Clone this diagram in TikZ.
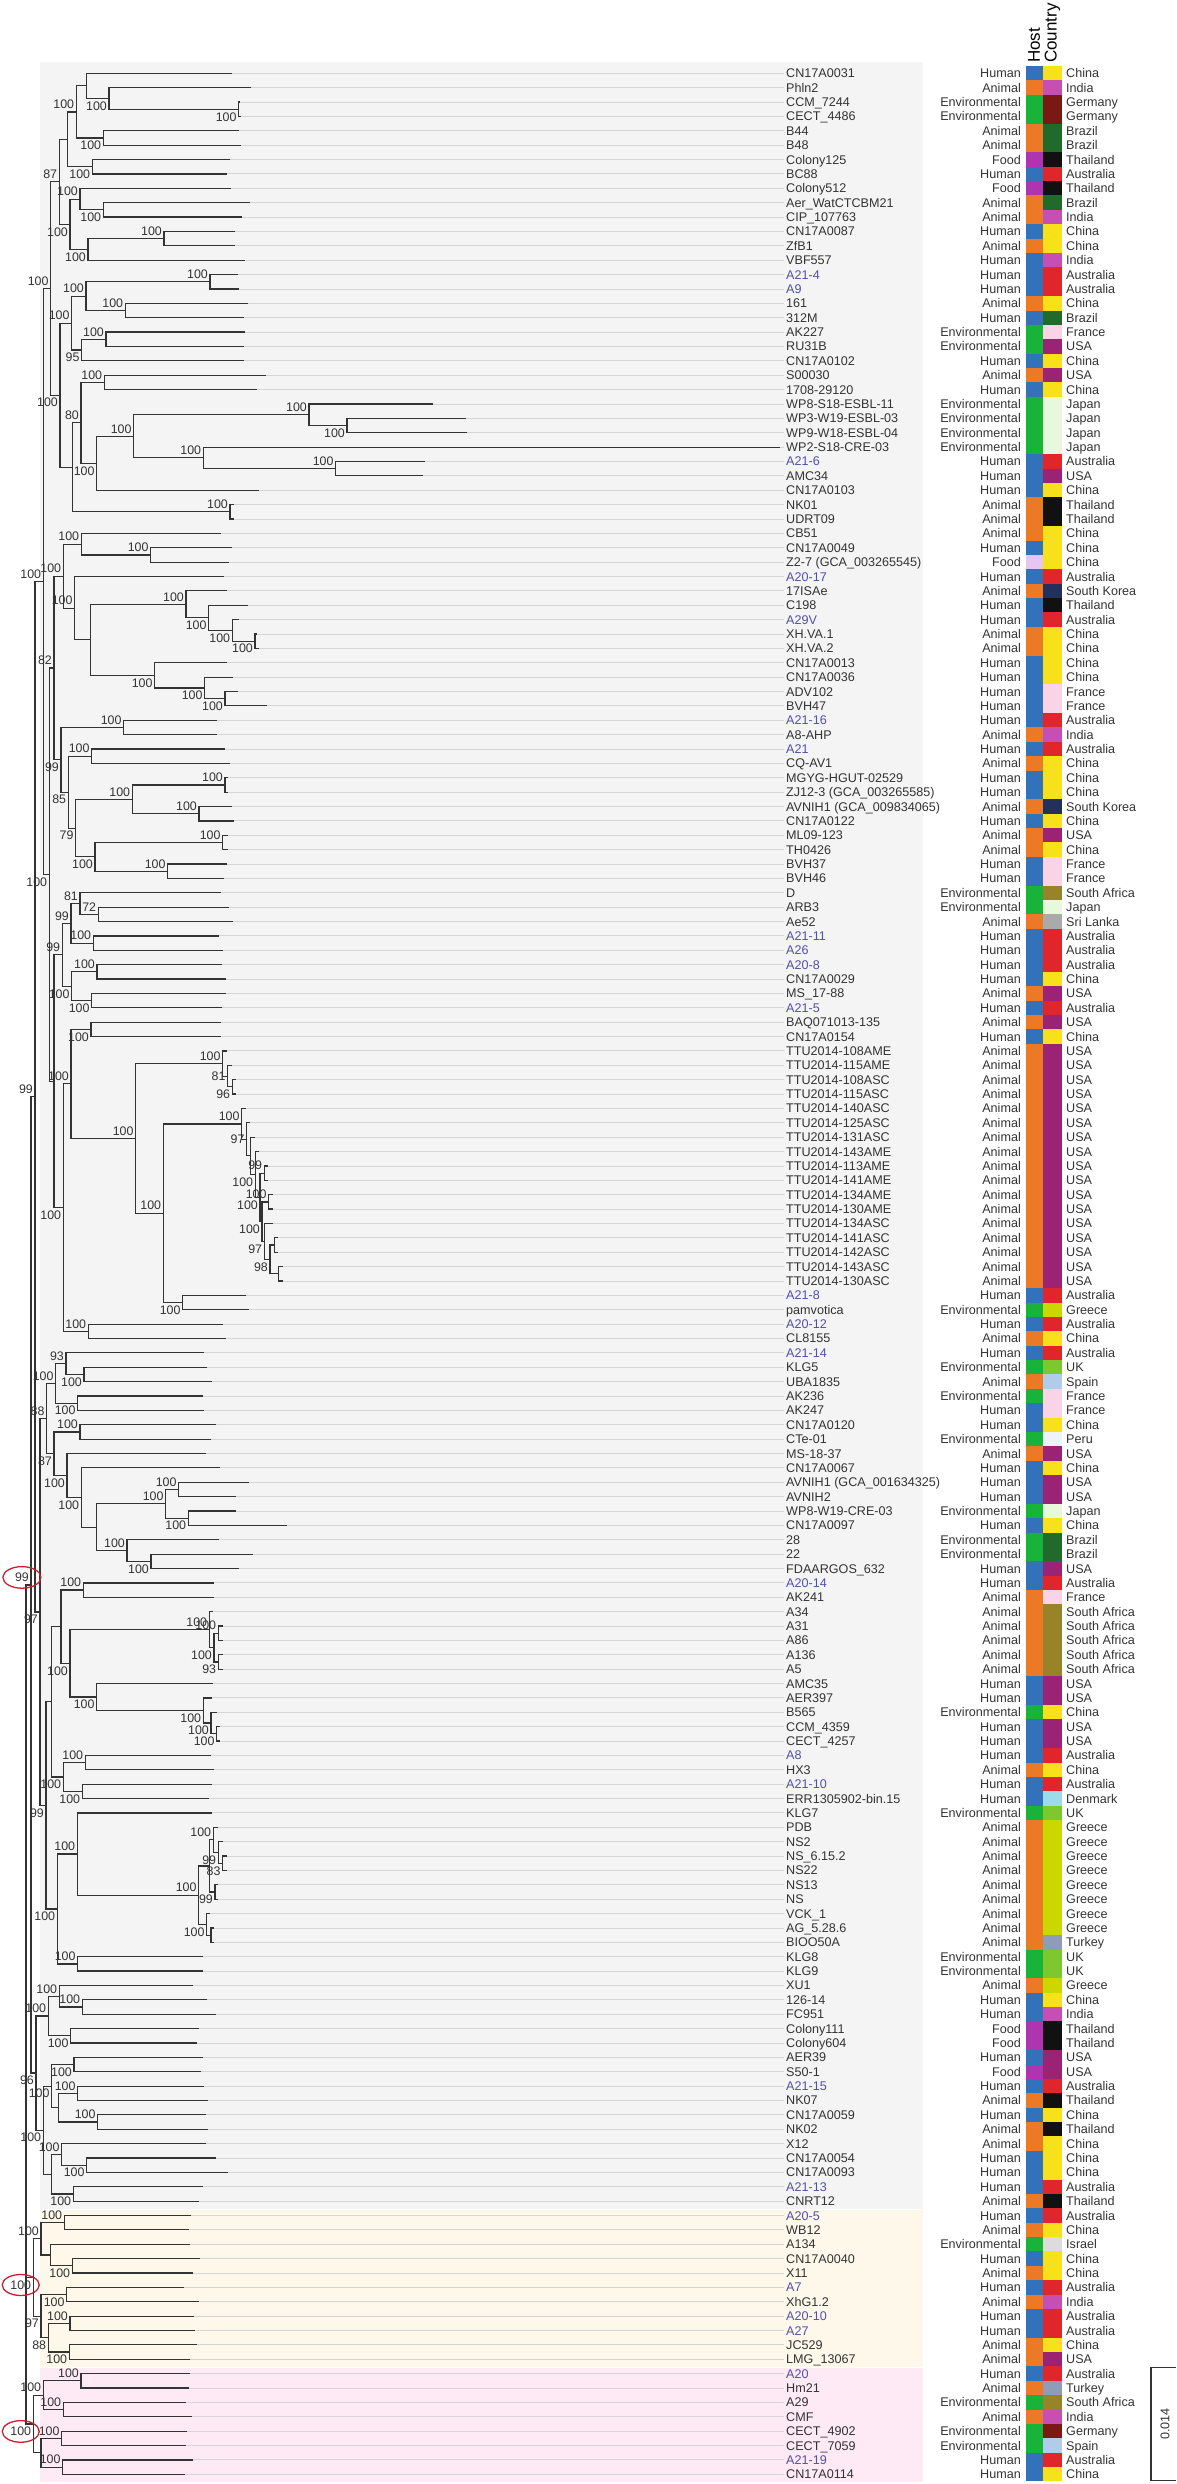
\documentclass[tikz,border=0pt]{standalone}
\usepackage{fontspec}
\setmainfont{Liberation Sans}

\definecolor{ink}{HTML}{333333}
\definecolor{rule}{HTML}{D6D6D6}
\definecolor{ours}{RGB}{80,80,170}
\definecolor{ringred}{HTML}{C8202D}
\definecolor{bgGrey}{HTML}{F4F4F4}
\definecolor{bgYellow}{HTML}{FEF8EB}
\definecolor{bgPink}{HTML}{FDEAF4}
% host colours
\definecolor{hH}{HTML}{3272B8}
\definecolor{hA}{HTML}{EC7A24}
\definecolor{hE}{HTML}{17B439}
\definecolor{hF}{HTML}{AE34B0}
\definecolor{hf}{HTML}{E4C6F0}
% country colours
\definecolor{cCN}{HTML}{F6E11A}
\definecolor{cIN}{HTML}{C64FB4}
\definecolor{cDE}{HTML}{7A1914}
\definecolor{cBR}{HTML}{206B2B}
\definecolor{cTH}{HTML}{111111}
\definecolor{cAU}{HTML}{E0262A}
\definecolor{cFR}{HTML}{FBD3E6}
\definecolor{cUS}{HTML}{9A2376}
\definecolor{cJP}{HTML}{E8F8DC}
\definecolor{cKR}{HTML}{22305C}
\definecolor{cZA}{HTML}{978428}
\definecolor{cLK}{HTML}{AAAAAA}
\definecolor{cGR}{HTML}{C8D800}
\definecolor{cUK}{HTML}{7DC72F}
\definecolor{cES}{HTML}{B0CCEA}
\definecolor{cPE}{HTML}{EEF3FB}
\definecolor{cDK}{HTML}{9CDCEA}
\definecolor{cTR}{HTML}{8E9CB8}
\definecolor{cIL}{HTML}{DCDCDC}

\def\hostH{Human}\def\hostA{Animal}\def\hostE{Environmental}\def\hostF{Food}\def\hostf{Food}
\def\ctryCN{China}\def\ctryIN{India}\def\ctryDE{Germany}\def\ctryBR{Brazil}
\def\ctryTH{Thailand}\def\ctryAU{Australia}\def\ctryFR{France}\def\ctryUS{USA}
\def\ctryJP{Japan}\def\ctryKR{South Korea}\def\ctryZA{South Africa}\def\ctryLK{Sri Lanka}
\def\ctryGR{Greece}\def\ctryUK{UK}\def\ctryES{Spain}\def\ctryPE{Peru}
\def\ctryDK{Denmark}\def\ctryTR{Turkey}\def\ctryIL{Israel}

\newcommand\leaffont{\fontsize{12.6}{14}\selectfont}
\newcommand\bootfont{\fontsize{12.4}{14}\selectfont}
\newcommand\headfont{\fontsize{17}{19}\selectfont}

% leaf: [name style]{row}{tip x}{name}{host}{country}
\newcommand\lf[6][leafname]{%
  \pgfmathsetmacro\rowy{73.3+(#2-1)*14.377}%
  \expandafter\xdef\csname ly@l#2\endcsname{\rowy}%
  \coordinate (l#2) at (#3,\rowy);
  \node[#1] (t#2) at (784,\rowy) {#4};
  \draw[guide] (l#2) -- (t#2);
  \node[hostlbl] (h#2) at (1021,\rowy) {\csname host#5\endcsname};
  \fill[h#5] (1025.7,\rowy-7.2) rectangle (1043,\rowy+7.2);
  \fill[c#6] (1043,\rowy-7.2) rectangle (1062,\rowy+7.2);
  \node[ctrylbl] (k#2) at (1066,\rowy) {\csname ctry#6\endcsname};
}
% clade: {name}{x}{child a}{child b}{support}{u/d/m}
\newcommand\nd[6]{%
  \edef\nda{\csname ly@#3\endcsname}\edef\ndb{\csname ly@#4\endcsname}%
  \pgfmathsetmacro\rowy{(\nda+\ndb)/2}%
  \expandafter\xdef\csname ly@#1\endcsname{\rowy}%
  \coordinate (#1) at (#2,\rowy);
  \draw[branch] (#3) -- (#3 -| #1) -- (#4 -| #1) -- (#4);
  \if\relax\detokenize{#5}\relax\else\node[boot,b#6] (b#1) at (#1) {#5};\fi
}

\begin{document}
\begin{tikzpicture}[x=1pt,y=-1pt,
    branch/.style={draw=ink,line width=1.2pt},
    guide/.style={draw=rule,line width=0.9pt},
    leafname/.style={anchor=west,inner sep=2pt,text height=9pt,text depth=0pt,font=\leaffont,text=ink},
    ourname/.style={leafname,text=ours},
    hostlbl/.style={anchor=east,inner sep=0pt,text height=9pt,text depth=0pt,font=\leaffont,text=ink},
    ctrylbl/.style={anchor=west,inner sep=0pt,text height=9pt,text depth=0pt,font=\leaffont,text=ink},
    boot/.style={anchor=east,inner sep=0pt,xshift=-2pt,font=\bootfont,text=ink},
    bu/.style={yshift=7.5pt},bd/.style={yshift=-7.5pt},bm/.style={},
    ring/.style={draw=ringred,line width=1.3pt},
    colhead/.style={rotate=90,anchor=west,inner sep=0pt,font=\headfont,text=black},
    scalebar/.style={draw=ink,line width=1.2pt}]
  \useasboundingbox (0,0) rectangle (1176,2484);

  \fill[bgGrey] (40,62) rectangle (923,2208.5);
  \fill[bgYellow] (40,2209.5) rectangle (923,2366.5);
  \fill[bgPink] (40,2367.5) rectangle (923,2481.5);

  \node[colhead] (hdhost) at (1034.2,63) {Host};
  \node[colhead] (hdctry) at (1052.5,63) {Country};

  \lf{1}{232}{CN17A0031}{H}{CN}
  \lf{2}{251}{Phln2}{A}{IN}
  \lf{3}{240}{CCM\_7244}{E}{DE}
  \lf{4}{241}{CECT\_4486}{E}{DE}
  \lf{5}{239}{B44}{A}{BR}
  \lf{6}{241}{B48}{A}{BR}
  \lf{7}{230}{Colony125}{F}{TH}
  \lf{8}{227}{BC88}{H}{AU}
  \lf{9}{231}{Colony512}{F}{TH}
  \lf{10}{250}{Aer\_WatCTCBM21}{A}{BR}
  \lf{11}{242}{CIP\_107763}{A}{IN}
  \lf{12}{235}{CN17A0087}{H}{CN}
  \lf{13}{235}{ZfB1}{A}{CN}
  \lf{14}{245}{VBF557}{H}{IN}
  \lf[ourname]{15}{238}{A21-4}{H}{AU}
  \lf[ourname]{16}{239}{A9}{H}{AU}
  \lf{17}{248}{161}{A}{CN}
  \lf{18}{244}{312M}{H}{BR}
  \lf{19}{245}{AK227}{E}{FR}
  \lf{20}{244}{RU31B}{E}{US}
  \lf{21}{244}{CN17A0102}{H}{CN}
  \lf{22}{266}{S00030}{A}{US}
  \lf{23}{257}{1708-29120}{H}{CN}
  \lf{24}{433}{WP8-S18-ESBL-11}{E}{JP}
  \lf{25}{466}{WP3-W19-ESBL-03}{E}{JP}
  \lf{26}{467}{WP9-W18-ESBL-04}{E}{JP}
  \lf{27}{780}{WP2-S18-CRE-03}{E}{JP}
  \lf[ourname]{28}{425}{A21-6}{H}{AU}
  \lf{29}{423}{AMC34}{H}{US}
  \lf{30}{259}{CN17A0103}{H}{CN}
  \lf{31}{234}{NK01}{A}{TH}
  \lf{32}{234}{UDRT09}{A}{TH}
  \lf{33}{221}{CB51}{A}{CN}
  \lf{34}{232}{CN17A0049}{H}{CN}
  \lf{35}{229}{Z2-7 (GCA\_003265545)}{f}{CN}
  \lf[ourname]{36}{224}{A20-17}{H}{AU}
  \lf{37}{227}{17ISAe}{A}{KR}
  \lf{38}{248}{C198}{H}{TH}
  \lf[ourname]{39}{239}{A29V}{H}{AU}
  \lf{40}{257}{XH.VA.1}{A}{CN}
  \lf{41}{259}{XH.VA.2}{A}{CN}
  \lf{42}{227}{CN17A0013}{H}{CN}
  \lf{43}{233}{CN17A0036}{H}{CN}
  \lf{44}{238}{ADV102}{H}{FR}
  \lf{45}{267}{BVH47}{H}{FR}
  \lf[ourname]{46}{217}{A21-16}{H}{AU}
  \lf{47}{217}{A8-AHP}{A}{IN}
  \lf[ourname]{48}{225}{A21}{H}{AU}
  \lf{49}{230}{CQ-AV1}{A}{CN}
  \lf{50}{228}{MGYG-HGUT-02529}{H}{CN}
  \lf{51}{228}{ZJ12-3 (GCA\_003265585)}{H}{CN}
  \lf{52}{232}{AVNIH1 (GCA\_009834065)}{A}{KR}
  \lf{53}{234}{CN17A0122}{H}{CN}
  \lf{54}{228}{ML09-123}{A}{US}
  \lf{55}{228}{TH0426}{A}{CN}
  \lf{56}{227}{BVH37}{H}{FR}
  \lf{57}{224}{BVH46}{H}{FR}
  \lf{58}{221}{D}{E}{ZA}
  \lf{59}{229}{ARB3}{E}{JP}
  \lf{60}{233}{Ae52}{A}{LK}
  \lf[ourname]{61}{219}{A21-11}{H}{AU}
  \lf[ourname]{62}{223}{A26}{H}{AU}
  \lf[ourname]{63}{222}{A20-8}{H}{AU}
  \lf{64}{226}{CN17A0029}{H}{CN}
  \lf{65}{226}{MS\_17-88}{A}{US}
  \lf[ourname]{66}{222}{A21-5}{H}{AU}
  \lf{67}{221}{BAQ071013-135}{A}{US}
  \lf{68}{221}{CN17A0154}{H}{CN}
  \lf{69}{227}{TTU2014-108AME}{A}{US}
  \lf{70}{232}{TTU2014-115AME}{A}{US}
  \lf{71}{236}{TTU2014-108ASC}{A}{US}
  \lf{72}{236}{TTU2014-115ASC}{A}{US}
  \lf{73}{246}{TTU2014-140ASC}{A}{US}
  \lf{74}{250}{TTU2014-125ASC}{A}{US}
  \lf{75}{255}{TTU2014-131ASC}{A}{US}
  \lf{76}{259}{TTU2014-143AME}{A}{US}
  \lf{77}{268}{TTU2014-113AME}{A}{US}
  \lf{78}{268}{TTU2014-141AME}{A}{US}
  \lf{79}{273}{TTU2014-134AME}{A}{US}
  \lf{80}{273}{TTU2014-130AME}{A}{US}
  \lf{81}{273}{TTU2014-134ASC}{A}{US}
  \lf{82}{278}{TTU2014-141ASC}{A}{US}
  \lf{83}{278}{TTU2014-142ASC}{A}{US}
  \lf{84}{283}{TTU2014-143ASC}{A}{US}
  \lf{85}{283}{TTU2014-130ASC}{A}{US}
  \lf[ourname]{86}{246}{A21-8}{H}{AU}
  \lf{87}{249}{pamvotica}{E}{GR}
  \lf[ourname]{88}{223}{A20-12}{H}{AU}
  \lf{89}{226}{CL8155}{A}{CN}
  \lf[ourname]{90}{204}{A21-14}{H}{AU}
  \lf{91}{207}{KLG5}{E}{UK}
  \lf{92}{212}{UBA1835}{A}{ES}
  \lf{93}{203}{AK236}{E}{FR}
  \lf{94}{204}{AK247}{H}{FR}
  \lf{95}{216}{CN17A0120}{H}{CN}
  \lf{96}{211}{CTe-01}{E}{PE}
  \lf{97}{206}{MS-18-37}{A}{US}
  \lf{98}{220}{CN17A0067}{H}{CN}
  \lf{99}{249}{AVNIH1 (GCA\_001634325)}{H}{US}
  \lf{100}{236}{AVNIH2}{H}{US}
  \lf{101}{236}{WP8-W19-CRE-03}{E}{JP}
  \lf{102}{287}{CN17A0097}{H}{CN}
  \lf{103}{219}{28}{E}{BR}
  \lf{104}{253}{22}{E}{BR}
  \lf{105}{239}{FDAARGOS\_632}{H}{US}
  \lf[ourname]{106}{214}{A20-14}{H}{AU}
  \lf{107}{214}{AK241}{A}{FR}
  \lf{108}{213}{A34}{A}{ZA}
  \lf{109}{223}{A31}{A}{ZA}
  \lf{110}{223}{A86}{A}{ZA}
  \lf{111}{223}{A136}{A}{ZA}
  \lf{112}{223}{A5}{A}{ZA}
  \lf{113}{213}{AMC35}{H}{US}
  \lf{114}{212}{AER397}{H}{US}
  \lf{115}{217}{B565}{E}{CN}
  \lf{116}{220}{CCM\_4359}{H}{US}
  \lf{117}{220}{CECT\_4257}{H}{US}
  \lf[ourname]{118}{211}{A8}{H}{AU}
  \lf{119}{214}{HX3}{A}{CN}
  \lf[ourname]{120}{212}{A21-10}{H}{AU}
  \lf{121}{209}{ERR1305902-bin.15}{H}{DK}
  \lf{122}{212}{KLG7}{E}{UK}
  \lf{123}{218}{PDB}{A}{GR}
  \lf{124}{223}{NS2}{A}{GR}
  \lf{125}{227}{NS\_6.15.2}{A}{GR}
  \lf{126}{227}{NS22}{A}{GR}
  \lf{127}{218}{NS13}{A}{GR}
  \lf{128}{218}{NS}{A}{GR}
  \lf{129}{210}{VCK\_1}{A}{GR}
  \lf{130}{214}{AG\_5.28.6}{A}{GR}
  \lf{131}{214}{BIOO50A}{A}{TR}
  \lf{132}{203}{KLG8}{E}{UK}
  \lf{133}{203}{KLG9}{E}{UK}
  \lf{134}{193}{XU1}{A}{GR}
  \lf{135}{207}{126-14}{H}{CN}
  \lf{136}{216}{FC951}{H}{IN}
  \lf{137}{199}{Colony111}{F}{TH}
  \lf{138}{197}{Colony604}{F}{TH}
  \lf{139}{203}{AER39}{H}{US}
  \lf{140}{201}{S50-1}{F}{US}
  \lf[ourname]{141}{204}{A21-15}{H}{AU}
  \lf{142}{208}{NK07}{A}{TH}
  \lf{143}{206}{CN17A0059}{H}{CN}
  \lf{144}{208}{NK02}{A}{TH}
  \lf{145}{206}{X12}{A}{CN}
  \lf{146}{216}{CN17A0054}{H}{CN}
  \lf{147}{228}{CN17A0093}{H}{CN}
  \lf[ourname]{148}{203}{A21-13}{H}{AU}
  \lf{149}{199}{CNRT12}{A}{TH}
  \lf[ourname]{150}{191}{A20-5}{H}{AU}
  \lf{151}{189}{WB12}{A}{CN}
  \lf{152}{190}{A134}{E}{IL}
  \lf{153}{200}{CN17A0040}{H}{CN}
  \lf{154}{193}{X11}{A}{CN}
  \lf[ourname]{155}{184}{A7}{H}{AU}
  \lf{156}{199}{XhG1.2}{A}{IN}
  \lf[ourname]{157}{194}{A20-10}{H}{AU}
  \lf[ourname]{158}{195}{A27}{H}{AU}
  \lf{159}{197}{JC529}{A}{CN}
  \lf{160}{190}{LMG\_13067}{A}{US}
  \lf[ourname]{161}{190}{A20}{H}{AU}
  \lf{162}{189}{Hm21}{A}{TR}
  \lf{163}{186}{A29}{E}{ZA}
  \lf{164}{192}{CMF}{A}{IN}
  \lf{165}{187}{CECT\_4902}{E}{DE}
  \lf{166}{186}{CECT\_7059}{E}{ES}
  \lf[ourname]{167}{193}{A21-19}{H}{AU}
  \lf{168}{185}{CN17A0114}{H}{CN}

  % upper grey clade
  \nd{n34}{238.7}{l3}{l4}{100}{d}
  \nd{n2b}{109}{l2}{n34}{100}{d}
  \nd{n1a}{86.3}{l1}{n2b}{}{}
  \nd{n56}{103.3}{l5}{l6}{100}{d}
  \nd{n1f}{76.3}{n1a}{n56}{100}{u}
  \nd{n78}{92.3}{l7}{l8}{100}{d}
  \nd{n1h}{67.3}{n1f}{n78}{}{}
  \nd{n1011}{103.3}{l10}{l11}{100}{d}
  \nd{n9c}{80}{l9}{n1011}{100}{u}
  \nd{n1213}{164}{l12}{l13}{100}{u}
  \nd{n12e}{88}{n1213}{l14}{100}{d}
  \nd{n9f}{70}{n9c}{n12e}{100}{d}
  \nd{n1n}{59.3}{n1h}{n9f}{87}{u}
  \nd{n1516}{210}{l15}{l16}{100}{u}
  \nd{n1718}{125.3}{l17}{l18}{100}{u}
  \nd{n15d}{86}{n1516}{n1718}{100}{u}
  \nd{n1920}{106}{l19}{l20}{100}{u}
  \nd{n19c}{81.7}{n1920}{l21}{95}{d}
  \nd{n15g}{71.7}{n15d}{n19c}{100}{u}
  \nd{n2223}{104.3}{l22}{l23}{100}{u}
  \nd{n2526}{347}{l25}{l26}{100}{d}
  \nd{n24c}{309}{l24}{n2526}{100}{u}
  \nd{n2829}{335.7}{l28}{l29}{100}{u}
  \nd{n27c}{203.3}{l27}{n2829}{100}{u}
  \nd{n24f}{133.7}{n24c}{n27c}{100}{u}
  \nd{n24g}{96.7}{n24f}{l30}{100}{d}
  \nd{n22e}{81}{n2223}{n24g}{80}{u}
  \nd{n3132}{230}{l31}{l32}{100}{u}
  \nd{n22g}{72.3}{n22e}{n3132}{}{}
  \nd{n15i}{60}{n15g}{n22g}{100}{d}
  \nd{nA}{50.7}{n1n}{n15i}{100}{u}

  \nd{n3435}{150.7}{l34}{l35}{100}{u}
  \nd{n33c}{81.3}{l33}{n3435}{100}{u}
  \nd{n4041}{255}{l40}{l41}{100}{d}
  \nd{n39c}{232.3}{l39}{n4041}{100}{d}
  \nd{n38d}{208.7}{l38}{n39c}{100}{d}
  \nd{n37e}{186}{l37}{n38d}{100}{u}
  \nd{n4445}{225}{l44}{l45}{100}{d}
  \nd{n43c}{204.7}{l43}{n4445}{100}{d}
  \nd{n42d}{154.7}{l42}{n43c}{100}{d}
  \nd{n37j}{90.7}{n37e}{n42d}{}{}
  \nd{n36k}{74.7}{l36}{n37j}{100}{u}
  \nd{n33l}{63.3}{n33c}{n36k}{100}{u}
  \nd{n4647}{123.7}{l46}{l47}{100}{u}
  \nd{n4849}{91.7}{l48}{l49}{100}{u}
  \nd{n5051}{225}{l50}{l51}{100}{u}
  \nd{n5253}{199}{l52}{l53}{100}{u}
  \nd{n50d}{132.3}{n5051}{n5253}{100}{u}
  \nd{n5455}{222.7}{l54}{l55}{100}{u}
  \nd{n5657}{167.7}{l56}{l57}{100}{u}
  \nd{n54d}{95}{n5455}{n5657}{100}{d}
  \nd{n50h}{75.7}{n50d}{n54d}{79}{d}
  \nd{n48j}{68.3}{n4849}{n50h}{85}{d}
  \nd{n46l}{61}{n4647}{n48j}{99}{d}
  \nd{n33x}{54}{n33l}{n46l}{82}{u}

  \nd{n5960}{98.3}{l59}{l60}{72}{u}
  \nd{n58c}{80}{l58}{n5960}{81}{u}
  \nd{n6162}{93.3}{l61}{l62}{100}{u}
  \nd{n58e}{71}{n58c}{n6162}{99}{u}
  \nd{n6364}{97}{l63}{l64}{100}{u}
  \nd{n6566}{91.7}{l65}{l66}{100}{d}
  \nd{n63d}{71.7}{n6364}{n6566}{100}{d}
  \nd{n58i}{62.3}{n58e}{n63d}{99}{u}
  \nd{n6768}{91}{l67}{l68}{100}{d}
  \nd{n7172}{232.3}{l71}{l72}{96}{d}
  \nd{n70c}{227.7}{l70}{n7172}{81}{m}
  \nd{n69d}{222.7}{l69}{n70c}{100}{u}
  \nd{n8485}{278.3}{l84}{l85}{}{}
  \nd{n8283}{274.3}{l82}{l83}{}{}
  \nd{n82d}{270}{n8283}{n8485}{98}{d}
  \nd{n81e}{264.3}{l81}{n82d}{97}{d}
  \nd{n7980}{268.7}{l79}{l80}{100}{u}
  \nd{n79g}{262}{n7980}{n81e}{100}{d}
  \nd{n7778}{264.3}{l77}{l78}{99}{u}
  \nd{n77j}{260}{n7778}{n79g}{100}{d}
  \nd{n76k}{255.3}{l76}{n77j}{100}{d}
  \nd{n75l}{250.7}{l75}{n76k}{}{}
  \nd{n74m}{246.7}{l74}{n75l}{97}{m}
  \nd{n73n}{241.7}{l73}{n74m}{100}{u}
  \nd{n8687}{182.7}{l86}{l87}{100}{d}
  \nd{n73p}{163.3}{n73n}{n8687}{100}{u}
  \nd{n69r}{135.7}{n69d}{n73p}{100}{u}
  \nd{n67t}{71}{n6768}{n69r}{100}{u}
  \nd{n8889}{88.3}{l88}{l89}{100}{u}
  \nd{n67v}{63.3}{n67t}{n8889}{100}{d}
  \nd{n58z}{54}{n58i}{n67v}{}{}
  \nd{n33y}{49.3}{n33x}{n58z}{100}{d}
  \nd{nB}{43.3}{nA}{n33y}{100}{u}

  % lower grey clade
  \nd{n9192}{84}{l91}{l92}{100}{d}
  \nd{n90c}{66}{l90}{n9192}{93}{u}
  \nd{n9394}{77.7}{l93}{l94}{100}{d}
  \nd{n90e}{55.7}{n90c}{n9394}{100}{u}
  \nd{n9596}{80}{l95}{l96}{100}{u}
  \nd{n99100}{178.7}{l99}{l100}{100}{u}
  \nd{n101102}{188.3}{l101}{l102}{100}{d}
  \nd{n99d}{165.7}{n99100}{n101102}{100}{u}
  \nd{n104105}{151}{l104}{l105}{100}{d}
  \nd{n103c}{127}{l103}{n104105}{100}{u}
  \nd{n99g}{96.7}{n99d}{n103c}{}{}
  \nd{n98h}{81.3}{l98}{n99g}{100}{d}
  \nd{n97i}{67}{l97}{n98h}{100}{d}
  \nd{n95k}{54}{n9596}{n97i}{87}{d}
  \nd{n90p}{46.7}{n90e}{n95k}{88}{u}
  \nd{n106107}{83.3}{l106}{l107}{100}{u}
  \nd{n109110}{218.3}{l109}{l110}{100}{u}
  \nd{n111112}{218.3}{l111}{l112}{93}{d}
  \nd{n109d}{214}{n109110}{n111112}{100}{d}
  \nd{n108e}{209.3}{l108}{n109d}{100}{u}
  \nd{n116117}{216.7}{l116}{l117}{100}{d}
  \nd{n115c}{211}{l115}{n116117}{100}{d}
  \nd{n114d}{203.3}{l114}{n115c}{100}{d}
  \nd{n113e}{96.7}{l113}{n114d}{100}{d}
  \nd{n108g}{70}{n108e}{n113e}{100}{d}
  \nd{n106h}{61}{n106107}{n108g}{}{}
  \nd{n118119}{85.3}{l118}{l119}{100}{u}
  \nd{n120121}{82.3}{l120}{l121}{100}{d}
  \nd{n118d}{63.3}{n118119}{n120121}{100}{d}
  \nd{n106m}{51.7}{n106h}{n118d}{}{}
  \nd{n125126}{222.7}{l125}{l126}{83}{d}
  \nd{n124c}{218.3}{l124}{n125126}{99}{d}
  \nd{n123d}{213.3}{l123}{n124c}{100}{u}
  \nd{n127128}{215}{l127}{l128}{99}{d}
  \nd{n123f}{209.3}{n123d}{n127128}{}{}
  \nd{n130131}{211}{l130}{l131}{}{}
  \nd{n129c}{206.7}{l129}{n130131}{100}{d}
  \nd{n123h}{198.7}{n123f}{n129c}{100}{u}
  \nd{n122i}{77.3}{l122}{n123h}{100}{u}
  \nd{n132133}{77.7}{l132}{l133}{100}{u}
  \nd{n122k}{57.3}{n122i}{n132133}{100}{d}
  \nd{n106x}{46}{n106m}{n122k}{99}{d}
  \nd{n90z}{40}{n90p}{n106x}{97}{d}
  \nd{n33z}{35}{nB}{n90z}{99}{u}

  \nd{n135136}{82.3}{l135}{l136}{100}{u}
  \nd{n134c}{59.3}{l134}{n135136}{100}{u}
  \nd{n137138}{70.7}{l137}{l138}{100}{d}
  \nd{n134e}{48.3}{n134c}{n137138}{100}{u}
  \nd{n139140}{74}{l139}{l140}{100}{d}
  \nd{n141142}{77.7}{l141}{l142}{100}{u}
  \nd{n143144}{97.7}{l143}{l144}{100}{u}
  \nd{n141144}{58.3}{n141142}{n143144}{}{}
  \nd{n139d}{51.7}{n139140}{n141144}{100}{d}
  \nd{n146147}{86.7}{l146}{l147}{100}{d}
  \nd{n145c}{61.7}{l145}{n146147}{100}{u}
  \nd{n148149}{73.3}{l148}{l149}{100}{d}
  \nd{n145e}{51.7}{n145c}{n148149}{}{}
  \nd{n139h}{43.3}{n139d}{n145e}{100}{d}
  \nd{n134k}{36}{n134e}{n139h}{96}{d}
  \nd{nG}{31}{n33z}{n134k}{99}{u}

  % yellow clade
  \nd{n150151}{64.3}{l150}{l151}{100}{u}
  \nd{n153154}{72.3}{l153}{l154}{100}{d}
  \nd{n152c}{50.7}{l152}{n153154}{}{}
  \nd{n150e}{41}{n150151}{n152c}{100}{u}
  \nd{n155156}{66.7}{l155}{l156}{100}{d}
  \nd{n157158}{70}{l157}{l158}{100}{u}
  \nd{n159160}{69.3}{l159}{l160}{100}{d}
  \nd{n157e}{48.3}{n157158}{n159160}{88}{d}
  \nd{n155g}{41}{n155156}{n157e}{97}{d}
  \nd{nY}{33.3}{n150e}{n155g}{100}{d}

  % pink clade
  \nd{n161162}{81}{l161}{l162}{100}{u}
  \nd{n163164}{63.3}{l163}{l164}{100}{u}
  \nd{n161d}{43.3}{n161162}{n163164}{100}{u}
  \nd{n165166}{61.7}{l165}{l166}{100}{u}
  \nd{n167168}{62.7}{l167}{l168}{100}{u}
  \nd{n165e}{41}{n165166}{n167168}{}{}
  \nd{nP}{33.3}{n161d}{n165e}{100}{d}

  % root
  \coordinate (root) at (26,0);
  \draw[branch] (nG) -- (nG -| root) -- (nP -| root) -- (nP);
  \draw[branch] (nY -| root) -- (nY);

  \draw[ring] (bnG.center) ellipse (19pt and 10.8pt);
  \draw[ring] (bnY.center) ellipse (18.5pt and 10.5pt);
  \draw[ring] (bnP.center) ellipse (18.5pt and 10.8pt);

  % scale
  \coordinate (sbtop) at (1176,2367.7);
  \coordinate (sbbot) at (1176,2480.5);
  \draw[scalebar] (sbtop) -- ++(-25,0) |- (sbbot);
  \node[font=\leaffont,text=ink,rotate=90] (sblabel) at (1165,2424) {0.014};
\end{tikzpicture}
\end{document}
